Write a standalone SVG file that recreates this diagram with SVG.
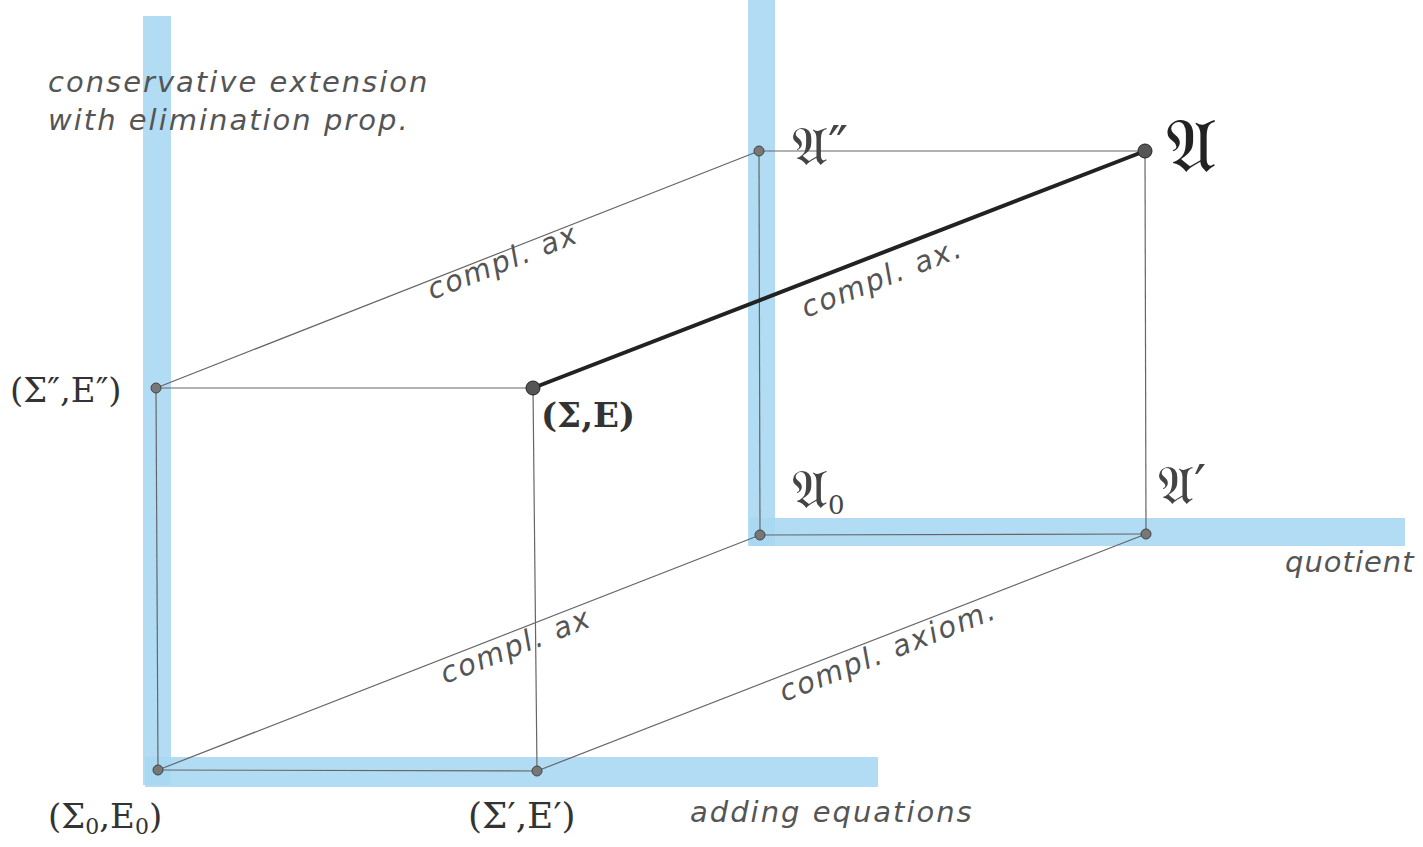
<svg xmlns="http://www.w3.org/2000/svg" width="1423" height="847" viewBox="0 0 1423 847">
<style>
.bar{fill:#a9d8f2;opacity:0.9}
.thin{stroke:#666;stroke-width:1.2;fill:none}
.thick{stroke:#222;stroke-width:4;fill:none}
.dot{fill:#777;stroke:#444;stroke-width:1}
.big{fill:#555;stroke:#222;stroke-width:1}
.lbl{font-family:"DejaVu Sans","Liberation Sans",sans-serif;font-style:italic;fill:#555;font-size:29px;letter-spacing:2px}
.node{font-family:"DejaVu Serif","Liberation Serif",serif;fill:#333;font-size:34px}
.frak{font-family:"DejaVu Serif","Liberation Serif",serif;fill:#444;font-size:54px}
</style>
<rect width="1423" height="847" fill="#fff"/>
<g id="bars">
<rect class="bar" x="143" y="16" width="28" height="769"/>
<rect class="bar" x="145" y="757" width="733" height="30"/>
<rect class="bar" x="748" y="0" width="27" height="546"/>
<rect class="bar" x="750" y="518" width="655" height="28"/>
</g>
<g id="connectors">
<line class="thin" x1="156" y1="388" x2="533" y2="388"/>
<line class="thin" x1="156" y1="388" x2="158" y2="770"/>
<line class="thin" x1="158" y1="770" x2="537" y2="771"/>
<line class="thin" x1="533" y1="388" x2="537" y2="771"/>
<line class="thin" x1="759" y1="151" x2="1145" y2="151"/>
<line class="thin" x1="759" y1="151" x2="760" y2="535"/>
<line class="thin" x1="760" y1="535" x2="1146" y2="534"/>
<line class="thin" x1="1145" y1="151" x2="1146" y2="534"/>
<line class="thin" x1="156" y1="388" x2="759" y2="151"/>
<line class="thin" x1="158" y1="770" x2="760" y2="535"/>
<line class="thin" x1="537" y1="771" x2="1146" y2="534"/>
<line class="thick" x1="533" y1="388" x2="1145" y2="151"/>
</g>
<g id="edge-labels">
<text class="lbl" transform="translate(432,300) rotate(-21.5)">compl. ax</text>
<text class="lbl" transform="translate(806,318) rotate(-21.5)">compl. ax.</text>
<text class="lbl" transform="translate(445,684) rotate(-21.5)">compl. ax</text>
<text class="lbl" transform="translate(784,702) rotate(-21.5)">compl. axiom.</text>
</g>
<g id="axis-labels">
<text class="lbl" x="48" y="92">conservative extension</text>
<text class="lbl" x="48" y="130">with elimination prop.</text>
<text class="lbl" x="1285" y="572" style="letter-spacing:1px">quotient</text>
<text class="lbl" x="690" y="822">adding equations</text>
</g>
<g id="n-S0"><circle class="dot" cx="158" cy="770" r="5"/><text class="node" x="48" y="828">(Σ<tspan style="font-size:22px" dy="6">0</tspan><tspan dy="-6">,E</tspan><tspan style="font-size:22px" dy="6">0</tspan><tspan dy="-6">)</tspan></text></g>
<g id="n-S1"><circle class="dot" cx="537" cy="771" r="5"/><text class="node" x="468" y="828" style="font-size:36px">(Σ′,E′)</text></g>
<g id="n-S2"><circle class="dot" cx="156" cy="388" r="5"/><text class="node" x="10" y="402">(Σ″,E″)</text></g>
<g id="n-S"><circle class="big" cx="533" cy="388" r="7"/><text class="node" x="541" y="427" style="font-weight:bold">(Σ,E)</text></g>
<g id="n-A0"><circle class="dot" cx="760" cy="535" r="5"/><text class="frak" x="792" y="508">𝔄<tspan style="font-size:26px" dy="6">0</tspan></text></g>
<g id="n-A1"><circle class="dot" cx="1146" cy="534" r="5"/><text class="frak" x="1158" y="504">𝔄′</text></g>
<g id="n-A2"><circle class="dot" cx="759" cy="151" r="5"/><text class="frak" x="792" y="165">𝔄″</text></g>
<g id="n-A"><circle class="big" cx="1145" cy="151" r="7"/><text class="frak" x="1166" y="172" style="font-size:76px;fill:#222">𝔄</text></g>
</svg>
